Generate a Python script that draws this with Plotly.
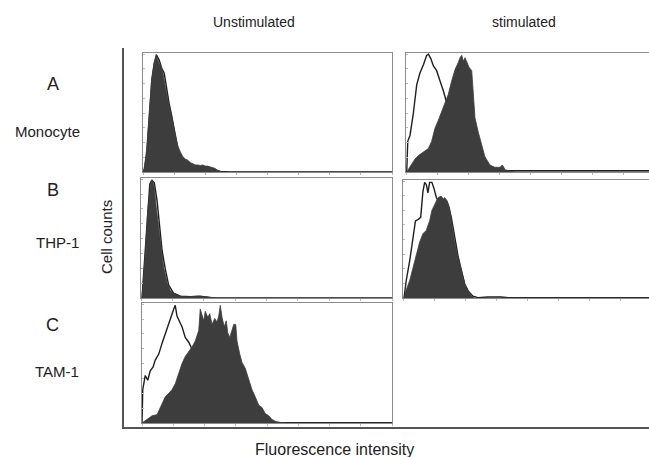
import plotly.graph_objects as go

# ---------------- data (x = % of fluorescence axis, y = % of max count) -------------
a_un_fill_x = [0, 0.5, 1.5, 2.5, 3.5, 4.5, 5.3, 5.8, 6.5, 7.3, 8, 9, 10, 11, 12, 13, 14, 15, 16, 17, 18, 19, 20, 21, 22, 23, 24, 25, 26, 27, 28, 29, 30, 31, 32, 100]
a_un_fill_y = [0, 3, 20, 55, 80, 93, 100, 96, 92, 90, 84, 72, 62, 52, 40, 30, 22, 17, 13, 11, 10, 8, 7, 6, 6, 5.5, 6, 5, 5, 4.5, 4, 3, 1.5, 0.5, 0, 0]
a_un_open_x = [0, 0.5, 1.5, 2.5, 3.5, 4.5, 5.5, 6.5, 7.5, 8.5, 9.5, 10.5, 11.5, 12.5, 13.5, 14.5, 15.5, 16.5, 18, 20, 22, 25, 28, 31, 35, 100]
a_un_open_y = [0, 2, 15, 48, 76, 92, 99, 95, 88, 84, 70, 58, 48, 36, 25, 16, 11, 8, 6, 4, 3, 2, 1, 0.5, 0, 0]

a_st_fill_x = [0.3, 1.6, 3.6, 5.0, 7.0, 9.0, 10.3, 11.6, 13.0, 14.3, 15.7, 17.0, 18.3, 19.7, 21.0, 21.7, 22.4, 23.0, 23.7, 24.4, 25.3, 26.4, 27.0, 27.7, 29.0, 30.4, 31.7, 33.7, 35.7, 37.8, 38.7, 39.8, 41.8, 43.8, 100]
a_st_fill_y = [0, 4, 11, 14, 17, 20, 26, 37, 44, 51, 59, 66, 77, 87, 93, 97, 99, 94, 97, 93, 89, 86, 66, 46, 34, 23, 13, 6, 4, 4, 6, 2, 0.5, 0, 0]
a_st_open_x = [0.3, 0.7, 1.6, 2.9, 4.3, 5.6, 7.0, 8.3, 9.0, 10.0, 11.0, 12.3, 13.7, 15.0, 16.3, 17.7, 19.0, 20.3, 21.7, 23.7, 26.4, 30.4, 34, 100]
a_st_open_y = [0, 26, 31, 49, 74, 84, 91, 99, 100, 96, 90, 86, 77, 69, 59, 46, 34, 23, 13, 6, 3, 1.5, 1, 1]

b_un_fill_x = [0.4, 1.7, 2.7, 3.5, 4.0, 4.6, 5.3, 6.1, 7.0, 8.0, 9.0, 10.4, 11.7, 13.7, 15.7, 18.3, 22.3, 26.3, 30.3, 100]
b_un_fill_y = [0, 37, 74, 93, 99, 99, 93, 76, 60, 43, 26, 13, 6, 3, 1.5, 1, 1.5, 1, 0, 0]
b_un_open_x = [0.4, 1.1, 2.4, 3.5, 4.4, 5.3, 6.4, 7.4, 8.4, 9.7, 11.0, 13.0, 15.7, 19.7, 23.6, 27.6, 31.6, 100]
b_un_open_y = [0, 24, 65, 96, 99, 97, 82, 60, 40, 24, 11, 4, 1.5, 1, 1.5, 0.3, 0, 0]

b_st_fill_x = [0.4, 1.3, 2.7, 4.0, 5.4, 6.7, 8.0, 9.4, 10.0, 10.7, 11.6, 12.7, 14.1, 15.4, 16.1, 16.7, 17.8, 18.7, 19.7, 20.7, 22.1, 23.4, 24.8, 26.1, 27.4, 28.8, 100]
b_st_fill_y = [0, 7, 15, 26, 38, 48, 55, 58, 62, 66, 75, 80, 86, 87, 84, 86, 83, 77, 63, 49, 35, 24, 12, 7, 2, 0, 0]
b_st_open_x = [0.4, 1.3, 2.7, 4.0, 5.0, 6.0, 7.1, 8.0, 8.7, 9.4, 10.0, 10.7, 11.6, 12.4, 13.4, 14.1, 14.7, 15.4, 16.7, 18.1, 19.4, 20.7, 22.1, 23.4, 24.8, 26.1, 28.1, 30.1, 34.1, 39.5, 42.2, 100]
b_st_open_y = [0, 15, 32, 49, 66, 67, 69, 91, 99, 97, 90, 99, 99, 94, 86, 83, 86, 86, 83, 80, 69, 52, 36, 24, 12, 6, 1.5, 0.3, 0.8, 0.8, 0.3, 0.3]

c_un_fill_x = [0, 2.0, 4.0, 6.0, 8.0, 9.3, 10.7, 12.0, 13.3, 14.7, 16.0, 17.3, 18.7, 20.0, 21.3, 22.7, 23.3, 24.0, 24.7, 25.3, 26.3, 27.1, 28.0, 29.1, 30.0, 30.7, 31.3, 32.0, 32.9, 33.7, 34.3, 35.1, 36.0, 36.7, 37.5, 38.0, 39.1, 40.0, 41.3, 42.7, 44.0, 45.3, 46.7, 48.0, 49.3, 50.7, 52.0, 53.3, 55.3, 58.0, 100]
c_un_fill_y = [0, 3, 6, 7, 17, 22, 25, 28, 33, 42, 50, 56, 60, 64, 69, 78, 96, 90, 86, 94, 89, 92, 83, 88, 85, 90, 99, 89, 81, 86, 76, 72, 79, 83, 83, 69, 58, 51, 46, 36, 28, 22, 15, 13, 8, 6, 3, 1.4, 0.5, 0, 0]
c_un_open_x = [0, 0.3, 1.3, 2.3, 3.3, 4.4, 5.3, 6.7, 8.0, 9.3, 10.7, 11.6, 12.7, 13.3, 14.0, 15.1, 16.0, 17.3, 18.7, 19.6, 21.3, 23.3, 26.0, 28.7, 31.3, 35.3, 39.3, 45, 100]
c_un_open_y = [0, 28, 40, 36, 44, 47, 53, 58, 67, 75, 85, 89, 96, 99, 90, 85, 81, 72, 68, 64, 47, 31, 17, 8, 4, 2, 1, 0.3, 0.3]

row_labels = ["A", "B", "C"]
cell_labels = ["Monocyte", "THP-1", "TAM-1"]
col_titles = ["Unstimulated", "stimulated"]
x_title = "Fluorescence intensity"
y_title = "Cell counts"

# ---------------- layout helpers ----------------
W, H = 649, 457
FILL = "#3d3d3d"
LINE = "#1e1e1e"
FRAME = "#8c8c8c"


def px_x(p):
    return p / W


def px_y(p):
    return 1 - p / H


panels = [
    (143, 392, 53, 172, 100, a_un_fill_x, a_un_fill_y, a_un_open_x, a_un_open_y),
    (406, 649, 53, 172, 100 * 243 / 249, a_st_fill_x, a_st_fill_y, a_st_open_x, a_st_open_y),
    (141, 392, 178, 298, 100, b_un_fill_x, b_un_fill_y, b_un_open_x, b_un_open_y),
    (403, 649, 180, 298, 100 * 246 / 249, b_st_fill_x, b_st_fill_y, b_st_open_x, b_st_open_y),
    (142, 392, 303, 423, 100, c_un_fill_x, c_un_fill_y, c_un_open_x, c_un_open_y),
]

fig = go.Figure()
layout = dict(
    width=W, height=H, margin=dict(l=0, r=0, t=0, b=0),
    paper_bgcolor="white", plot_bgcolor="white", showlegend=False,
    font=dict(family="Liberation Sans, Arial, sans-serif", color="#222"),
)

for i, (x0, x1, yt, yb, xmax, fx, fy, ox, oy) in enumerate(panels):
    n = i + 1
    xa = "x" if n == 1 else f"x{n}"
    ya = "y" if n == 1 else f"y{n}"
    # open (control) histogram first, filled histogram drawn over it
    fig.add_trace(go.Scatter(x=ox, y=oy, xaxis=xa, yaxis=ya, mode="lines",
                             line=dict(color=LINE, width=1.4), hoverinfo="skip"))
    fig.add_trace(go.Scatter(x=fx, y=fy, xaxis=xa, yaxis=ya, mode="lines",
                             fill="tozeroy", fillcolor=FILL,
                             line=dict(color=FILL, width=0.8), hoverinfo="skip"))
    right_side = x1 >= W
    layout[f"xaxis{'' if n == 1 else n}"] = dict(
        domain=[px_x(x0), px_x(x1)], range=[0, xmax], anchor=ya,
        showline=True, linecolor=FRAME, linewidth=1, mirror=True,
        showgrid=False, zeroline=False, showticklabels=False,
        ticks="outside", ticklen=2, tickcolor="#bbbbbb", dtick=12.5, tick0=0)
    layout[f"yaxis{'' if n == 1 else n}"] = dict(
        domain=[px_y(yb), px_y(yt)], range=[0, 101], anchor=xa,
        showline=True, linecolor=FRAME, linewidth=1, mirror=not right_side,
        showgrid=False, zeroline=False, showticklabels=False,
        ticks="inside", ticklen=2, tickcolor="#bbbbbb", dtick=12.5)

fig.update_layout(**layout)

# big L-shaped axis
fig.add_shape(type="line", xref="paper", yref="paper",
              x0=px_x(123), x1=px_x(123), y0=px_y(48), y1=px_y(428),
              line=dict(color="#555555", width=2))
fig.add_shape(type="line", xref="paper", yref="paper",
              x0=px_x(122), x1=1, y0=px_y(428), y1=px_y(428),
              line=dict(color="#555555", width=2))


def label(text, cx, cy, size, angle=0):
    return dict(text=text, x=px_x(cx), y=px_y(cy), xref="paper", yref="paper",
                xanchor="center", yanchor="middle", showarrow=False,
                textangle=angle, font=dict(size=size))


ann = []
for t, cx in zip(col_titles, [254, 524]):
    ann.append(label(t, cx, 22, 14))
for lab, cy in zip(row_labels, [84, 190, 325]):
    ann.append(label(lab, 53, cy, 18))
for lab, cx, cy in zip(cell_labels, [47, 57, 57], [131, 242, 371]):
    ann.append(label(lab, cx, cy, 15))
ann.append(label(y_title, 106, 237, 15, -90))
ann.append(label(x_title, 334, 449, 16))
fig.update_layout(annotations=ann)

fig.write_html("out.html", config={"displayModeBar": False},
               post_script="document.body.style.margin='0px';")
